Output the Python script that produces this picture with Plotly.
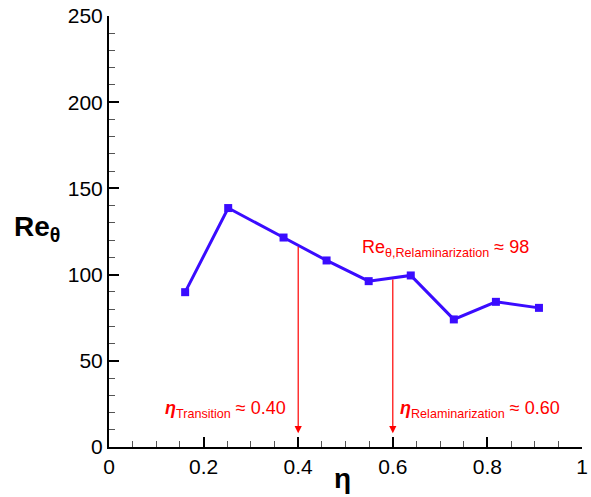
import numpy as np
import plotly.graph_objects as go

eta = [0.161, 0.252, 0.369, 0.460, 0.549, 0.638, 0.729, 0.818, 0.909]
re_theta = [89.8, 138.6, 121.5, 108.2, 96.2, 99.5, 74.0, 84.2, 80.7]

eta_transition = 0.40
eta_relam = 0.60
re_relam = 98
x_ticks = [0, 0.2, 0.4, 0.6, 0.8, 1]
x_ticklabels = ["0", "0.2", "0.4", "0.6", "0.8", "1"]
y_ticks = [0, 50, 100, 150, 200, 250]

FONT = "Liberation Sans, Arial, Helvetica, sans-serif"
RED = "#ff0000"
BLUE = "#3a0cff"

fig = go.Figure()
fig.add_trace(go.Scatter(
    x=eta, y=re_theta, mode="lines+markers",
    line=dict(color=BLUE, width=3),
    marker=dict(symbol="square", size=8, color=BLUE),
    showlegend=False, hoverinfo="skip",
))

y_tr = float(np.interp(eta_transition, eta, re_theta))
y_rl = float(np.interp(eta_relam, eta, re_theta))
arrow_end = 8

annotations = []
for xv, yv in [(eta_transition, y_tr), (eta_relam, y_rl)]:
    annotations.append(dict(
        x=xv, y=arrow_end, ax=xv, ay=yv, xref="x", yref="y", axref="x", ayref="y",
        showarrow=True, arrowhead=2, arrowsize=1.2, arrowwidth=1.2, arrowcolor=RED, text="",
    ))

annotations += [
    dict(x=0.246, y=21.5, xref="x", yref="y", showarrow=False,
         text="<b><i>η</i></b><sub>Transition</sub> ≈ " + f"{eta_transition:.2f}",
         font=dict(family=FONT, size=18, color=RED), xanchor="center", yanchor="middle"),
    dict(x=0.612, y=21.5, xref="x", yref="y", showarrow=False,
         text="<b><i>η</i></b><sub>Relaminarization</sub> ≈ " + f"{eta_relam:.2f}",
         font=dict(family=FONT, size=18, color=RED), xanchor="left", yanchor="middle"),
    dict(x=0.530, y=115, xref="x", yref="y", showarrow=False,
         text="Re<sub>θ,Relaminarization</sub> ≈ " + f"{re_relam}",
         font=dict(family=FONT, size=18, color=RED), xanchor="left", yanchor="middle"),
    dict(x=-0.152, y=127, xref="paper", yref="y", showarrow=False,
         text="<b>Re<sub>θ</sub></b>",
         font=dict(family=FONT, size=28, color="black"), xanchor="center", yanchor="middle"),
    dict(x=0.493, y=-0.072, xref="x", yref="paper", showarrow=False,
         text="<b>η</b>",
         font=dict(family=FONT, size=28, color="black"), xanchor="center", yanchor="middle"),
]

fig.update_layout(
    width=591, height=497,
    margin=dict(l=109, r=9, t=16, b=50, autoexpand=False),
    paper_bgcolor="white", plot_bgcolor="white",
    font=dict(family=FONT, size=21, color="black"),
    annotations=annotations,
    xaxis=dict(
        range=[0, 1], tickvals=x_ticks, ticktext=x_ticklabels, automargin=False,
        showgrid=False, zeroline=False, showline=True, linecolor="black", linewidth=2,
        ticks="inside", ticklen=10, tickwidth=2, tickcolor="black",
        minor=dict(dtick=0.05, ticks="inside", ticklen=6, tickwidth=1, tickcolor="#555", showgrid=False),
        tickfont=dict(family=FONT, size=21, color="black"),
        ticklabeloverflow="allow",
    ),
    yaxis=dict(
        range=[0, 250], tickvals=y_ticks, automargin=False,
        showgrid=False, zeroline=False, showline=True, linecolor="black", linewidth=2,
        ticks="inside", ticklen=10, tickwidth=2, tickcolor="black",
        minor=dict(dtick=10, ticks="inside", ticklen=6, tickwidth=1, tickcolor="#555", showgrid=False),
        tickfont=dict(family=FONT, size=21, color="black"),
        ticklabeloverflow="allow",
    ),
)

fig.write_html("out.html", config={"displayModeBar": False},
               post_script="document.body.style.margin='0';")
